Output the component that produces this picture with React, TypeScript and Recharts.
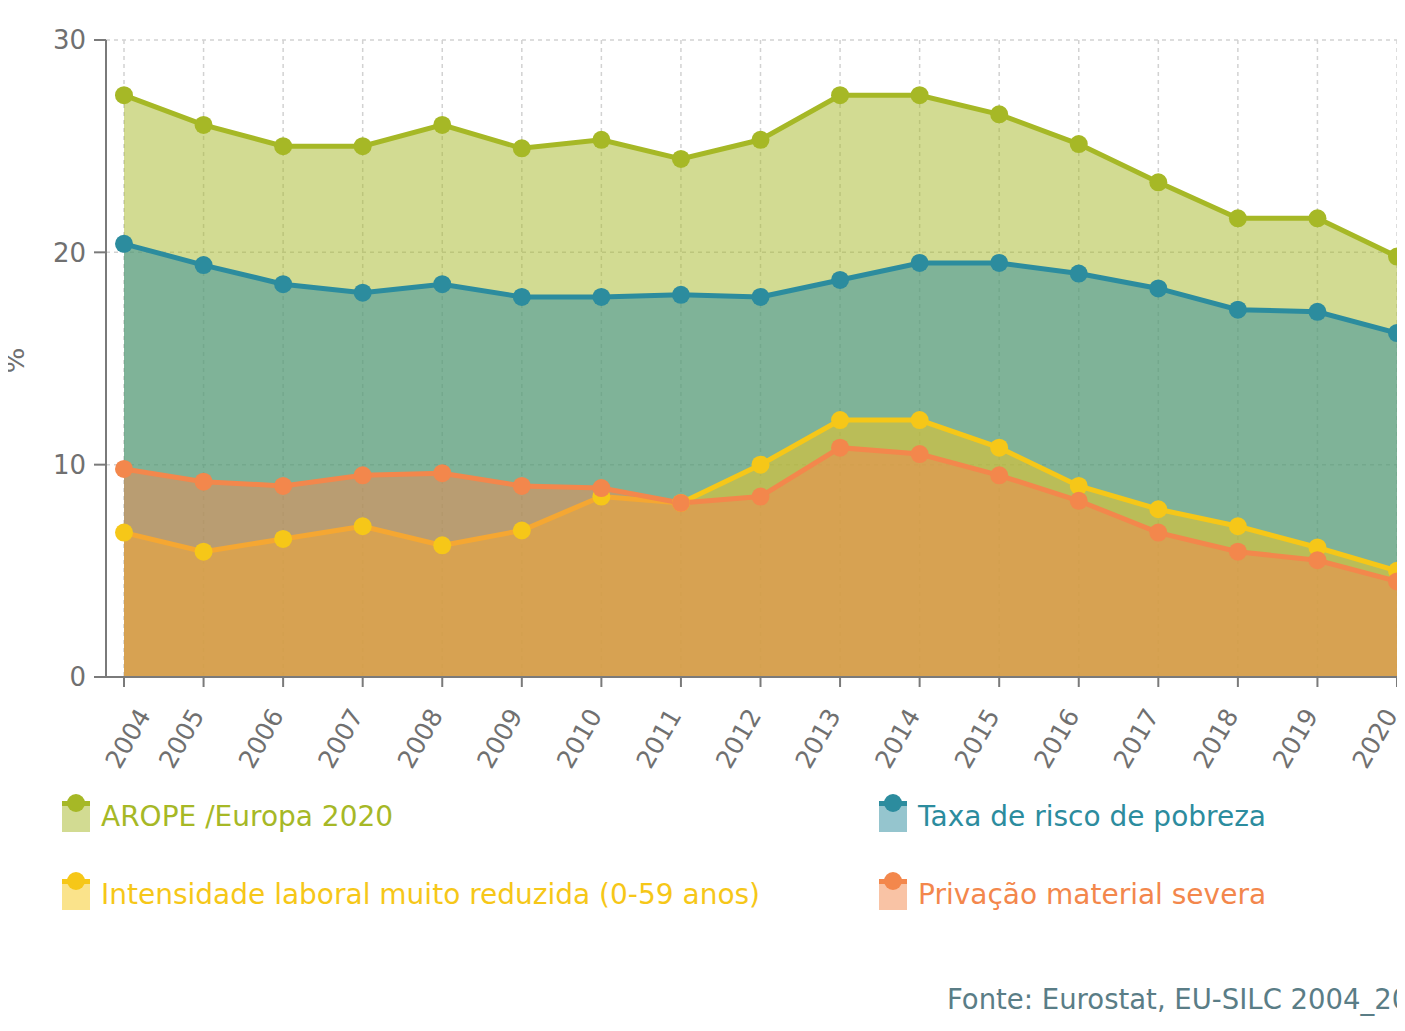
import React from 'react';
import { Area, CartesianGrid, ComposedChart, Label, Line, XAxis, YAxis } from 'recharts';

const years = ['2004', '2005', '2006', '2007', '2008', '2009', '2010', '2011', '2012', '2013', '2014', '2015', '2016', '2017', '2018', '2019', '2020'];
const arope = [27.4, 26.0, 25.0, 25.0, 26.0, 24.9, 25.3, 24.4, 25.3, 27.4, 27.4, 26.5, 25.1, 23.3, 21.6, 21.6, 19.8];
const taxaPobreza = [20.4, 19.4, 18.5, 18.1, 18.5, 17.9, 17.9, 18.0, 17.9, 18.7, 19.5, 19.5, 19.0, 18.3, 17.3, 17.2, 16.2];
const intensidade = [6.8, 5.9, 6.5, 7.1, 6.2, 6.9, 8.5, 8.2, 10.0, 12.1, 12.1, 10.8, 9.0, 7.9, 7.1, 6.1, 5.0];
const privacao = [9.8, 9.2, 9.0, 9.5, 9.6, 9.0, 8.9, 8.2, 8.5, 10.8, 10.5, 9.5, 8.3, 6.8, 5.9, 5.5, 4.5];
const yTicks = [0, 10, 20, 30];

const SERIES = [
  { key: 'arope', name: 'AROPE /Europa 2020', color: '#a6b826' },
  { key: 'taxa', name: 'Taxa de risco de pobreza', color: '#2c8c9e' },
  { key: 'intensidade', name: 'Intensidade laboral muito reduzida (0-59 anos)', color: '#f6c718' },
  { key: 'privacao', name: 'Privação material severa', color: '#f3874c' },
];

const data = years.map((year, i) => ({
  year,
  arope: arope[i],
  taxa: taxaPobreza[i],
  intensidade: intensidade[i],
  privacao: privacao[i],
}));

const FONT = '"DejaVu Sans", sans-serif';
const GREY = '#707070';

function XTick({ x, y, payload, index }: any) {
  const tx = x + (index === 0 ? 20 : -6);
  return (
    <text
      x={tx}
      y={y}
      transform={`rotate(-60, ${tx}, ${y})`}
      textAnchor="end"
      dominantBaseline="central"
      fontSize={25}
      fontFamily={FONT}
      fill={GREY}
    >
      {payload.value}
    </text>
  );
}

function PctLabel({ viewBox }: any) {
  const cx = viewBox.x + 14;
  const cy = viewBox.y + viewBox.height / 2 + 2;
  return (
    <text x={cx} y={cy} transform={`rotate(-90, ${cx}, ${cy})`} textAnchor="middle" dominantBaseline="central" fontSize={27} fontFamily={FONT} fill={GREY}>
      %
    </text>
  );
}

function LegendItem({ item, left, top }: { item: (typeof SERIES)[number]; left: number; top: number }) {
  return (
    <div style={{ position: 'absolute', left, top, height: 40 }}>
      <div style={{ position: 'absolute', left: 0, top: 9, width: 28, height: 29, background: item.color, opacity: 0.5 }} />
      <div style={{ position: 'absolute', left: 0, top: 7, width: 28, height: 5, background: item.color }} />
      <div style={{ position: 'absolute', left: 5, top: 0, width: 18, height: 18, borderRadius: 9, background: item.color }} />
      <div
        style={{
          position: 'absolute',
          left: 39,
          top: 3,
          whiteSpace: 'nowrap',
          fontFamily: FONT,
          fontSize: 28,
          lineHeight: '40px',
          color: item.color,
        }}
      >
        {item.name}
      </div>
    </div>
  );
}

export default function App() {
  return (
    <div style={{ position: 'relative', margin: -8, width: 1405, height: 1031, overflow: 'hidden', background: '#fff' }}>
      <div style={{ position: 'absolute', left: 130, top: 0, width: 9, height: 5, background: '#0b6a3b' }} />

      <div style={{ position: 'absolute', left: 0, top: 0 }}>
        <ComposedChart width={1415} height={790} data={data} margin={{ top: 40, right: 0, bottom: 0, left: 0 }}>
          <CartesianGrid stroke="#d2d2d2" strokeDasharray="4 4" strokeWidth={1.5} />
          <XAxis
            dataKey="year"
            padding={{ left: 18, right: 18 }}
            height={113}
            tickSize={10}
            tickMargin={24}
            stroke="#7a7a7a"
            strokeWidth={2}
            tick={<XTick />}
            interval={0}
          />
          <YAxis
            domain={[0, 30]}
            ticks={yTicks}
            width={106}
            tickSize={12}
            tickMargin={8}
            stroke="#7a7a7a"
            strokeWidth={2}
            tick={{ fontSize: 26, fontFamily: FONT, fill: GREY }}
          >
            <Label content={<PctLabel />} />
          </YAxis>
          {SERIES.map((s) => (
            <Area
              key={`area-${s.key}`}
              type="linear"
              dataKey={s.key}
              name={s.name}
              stroke={s.color}
              strokeWidth={5}
              fill={s.color}
              fillOpacity={0.5}
              dot={false}
              activeDot={false}
              isAnimationActive={false}
            />
          ))}
          {SERIES.map((s) => (
            <Line
              key={`dots-${s.key}`}
              type="linear"
              dataKey={s.key}
              stroke="none"
              dot={{ r: 9, fill: s.color, stroke: 'none' }}
              activeDot={false}
              legendType="none"
              isAnimationActive={false}
            />
          ))}
        </ComposedChart>
      </div>

      <LegendItem item={SERIES[0]} left={62} top={794} />
      <LegendItem item={SERIES[1]} left={879} top={794} />
      <LegendItem item={SERIES[2]} left={62} top={872} />
      <LegendItem item={SERIES[3]} left={879} top={872} />

      <div
        style={{
          position: 'absolute',
          left: 947,
          top: 983,
          whiteSpace: 'nowrap',
          fontFamily: FONT,
          fontSize: 27.5,
          color: '#5a7d86',
        }}
      >
        Fonte: Eurostat, EU-SILC 2004_2020
      </div>
    </div>
  );
}
